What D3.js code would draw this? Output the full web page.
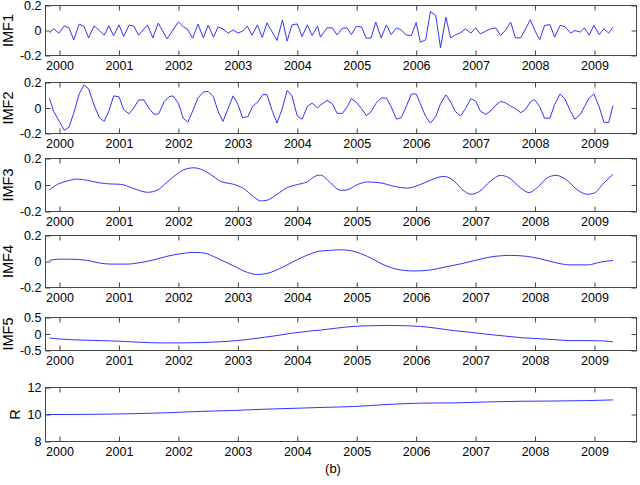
<!doctype html>
<html>
<head>
<script src="https://cdn.jsdelivr.net/npm/d3@7"></script>
<style>
  body, html { margin: 0; background: #fff; }
  svg { display: block; font-family: "Liberation Sans", Arial, sans-serif; }
  .axis text { font-size: 12.5px; fill: #000; }
  .axis line { stroke: #444; }
  .axis path { display: none; }
  .frame { fill: none; stroke: #444; stroke-width: 1; }
  .trace { fill: none; stroke: #3333ff; stroke-width: 1; }
  .ylab { font-size: 14.5px; fill: #000; }
</style>
</head>
<body>
<svg width="640" height="485"></svg>
<script>

// x axis (decimal years)
var yearTicks = [2000, 2001, 2002, 2003, 2004, 2005, 2006, 2007, 2008, 2009];
var xLimits = [1999.764, 2009.707];

var panelNames = ["IMF1", "IMF2", "IMF3", "IMF4", "IMF5", "R"];
var yLimits = [[-0.2, 0.2], [-0.2, 0.2], [-0.2, 0.2], [-0.2, 0.2], [-0.5, 0.5], [8, 12]];
var yTicks = [[-0.2, 0, 0.2], [-0.2, 0, 0.2], [-0.2, 0, 0.2], [-0.2, 0, 0.2], [-0.5, 0, 0.5], [8, 10, 12]];

// [year, value]
var imf1 = [
  [1999.83,-0.019],[1999.90,0.013],[1999.99,-0.021],[2000.08,0.037],[2000.16,0.021],[2000.24,-0.075],
  [2000.33,0.051],[2000.41,0.035],[2000.49,-0.059],[2000.58,0.037],[2000.67,0],[2000.75,-0.037],
  [2000.83,0.037],[2000.91,-0.043],[2001.00,0.045],[2001.08,-0.048],[2001.17,0.043],[2001.25,0.035],
  [2001.33,-0.037],[2001.48,0.045],[2001.57,-0.059],[2001.66,0.059],[2001.81,-0.067],[2002.00,0.069],
  [2002.09,0.027],[2002.15,0.011],[2002.24,-0.061],[2002.33,0.051],[2002.42,-0.059],[2002.50,0.043],
  [2002.59,-0.053],[2002.67,0.029],[2002.75,0.011],[2002.84,-0.021],[2002.92,0.005],[2003.00,-0.021],
  [2003.08,-0.005],[2003.16,0.035],[2003.24,-0.037],[2003.33,0.045],[2003.41,-0.056],[2003.49,0.061],
  [2003.66,-0.08],[2003.75,0.085],[2003.83,-0.085],[2003.91,0.045],[2004.00,0.053],[2004.08,-0.048],
  [2004.17,0.045],[2004.25,-0.04],[2004.34,0.035],[2004.39,-0.053],[2004.50,0.021],[2004.59,0.021],
  [2004.67,-0.035],[2004.76,0.019],[2004.84,0.019],[2004.91,-0.032],[2004.99,0.032],[2005.08,0.029],
  [2005.16,-0.061],[2005.24,-0.061],[2005.32,0.067],[2005.41,-0.059],[2005.50,0.045],[2005.58,-0.032],
  [2005.67,0.021],[2005.75,0.005],[2005.83,-0.035],[2005.92,-0.04],[2006.00,0.064],[2006.07,-0.093],
  [2006.16,-0.075],[2006.24,0.152],[2006.33,0.12],[2006.41,-0.139],[2006.50,0.107],[2006.58,-0.059],
  [2006.66,-0.035],[2006.75,-0.016],[2006.83,0.013],[2006.92,-0.021],[2007.00,0.021],[2007.08,-0.027],
  [2007.17,-0.005],[2007.25,0.013],[2007.34,0.021],[2007.42,-0.04],[2007.50,0],[2007.59,0.067],
  [2007.67,-0.059],[2007.76,-0.059],[2007.84,0.013],[2007.92,0.085],[2008.01,-0.013],[2008.08,-0.072],
  [2008.16,0.04],[2008.25,0.048],[2008.33,-0.053],[2008.42,0.04],[2008.50,0.032],[2008.60,-0.021],
  [2008.67,0],[2008.76,-0.013],[2008.83,0.021],[2008.91,-0.037],[2008.99,0.04],[2009.08,-0.032],
  [2009.16,0.013],[2009.24,-0.021],[2009.31,0.027]
];

var imf2 = [
  [1999.83,0.075],[1999.90,-0.025],[1999.99,-0.1],[2000.08,-0.175],[2000.16,-0.15],[2000.24,-0.038],
  [2000.33,0.11],[2000.41,0.18],[2000.49,0.15],[2000.58,0.025],[2000.67,-0.075],[2000.75,-0.105],
  [2000.83,-0.025],[2000.91,0.095],[2001.00,0.088],[2001.08,-0.013],[2001.17,-0.045],[2001.25,0],
  [2001.33,0.063],[2001.42,0.063],[2001.50,0],[2001.59,-0.05],[2001.67,-0.045],[2001.76,0.05],
  [2001.84,0.088],[2001.91,0.095],[2002.00,0.038],[2002.08,-0.08],[2002.16,-0.11],[2002.25,-0.013],
  [2002.33,0.08],[2002.42,0.125],[2002.50,0.13],[2002.59,0.088],[2002.67,-0.03],[2002.75,-0.105],
  [2002.84,0],[2002.92,0.095],[2003.00,0.03],[2003.08,-0.075],[2003.17,-0.068],[2003.25,0.013],
  [2003.34,0.05],[2003.42,0.105],[2003.49,0.105],[2003.58,-0.025],[2003.66,-0.118],[2003.75,0],
  [2003.83,0.138],[2003.91,0.095],[2004.00,-0.063],[2004.08,-0.088],[2004.17,0.013],[2004.25,0.038],
  [2004.34,0],[2004.39,0.022],[2004.50,0.06],[2004.59,0.034],[2004.67,-0.042],[2004.76,-0.042],
  [2004.84,0.009],[2004.91,0.073],[2004.99,0.047],[2005.08,-0.004],[2005.16,-0.06],[2005.24,-0.03],
  [2005.32,0.034],[2005.41,0.078],[2005.50,0.078],[2005.58,0.009],[2005.67,-0.088],[2005.75,-0.075],
  [2005.83,0.009],[2005.92,0.11],[2006.00,0.11],[2006.07,0.034],[2006.16,-0.067],[2006.24,-0.118],
  [2006.33,-0.067],[2006.41,0.034],[2006.50,0.103],[2006.58,0.047],[2006.66,-0.029],[2006.75,-0.062],
  [2006.83,-0.004],[2006.92,0.073],[2007.00,0.055],[2007.08,-0.024],[2007.17,-0.05],[2007.25,-0.024],
  [2007.34,0.022],[2007.42,0.052],[2007.50,0.042],[2007.59,0.014],[2007.67,-0.004],[2007.76,-0.037],
  [2007.84,-0.012],[2007.92,0.047],[2007.99,0.067],[2008.08,0.009],[2008.16,-0.08],[2008.25,-0.08],
  [2008.33,0.027],[2008.42,0.11],[2008.50,0.073],[2008.60,-0.029],[2008.67,-0.088],[2008.76,-0.05],
  [2008.83,0.009],[2008.91,0.078],[2008.99,0.11],[2009.08,0.009],[2009.16,-0.113],[2009.24,-0.113],
  [2009.31,0.017]
];

var imf3 = [
  [1999.83,-0.035],[1999.99,0.01],[2000.13,0.03],[2000.30,0.045],[2000.47,0.035],[2000.69,0.015],
  [2000.86,0.008],[2001.03,0.005],[2001.25,-0.027],[2001.48,-0.055],[2001.64,-0.04],[2001.81,0.022],
  [2001.98,0.085],[2002.12,0.12],[2002.26,0.13],[2002.37,0.12],[2002.54,0.08],[2002.71,0.027],
  [2002.93,0.005],[2003.10,-0.027],[2003.27,-0.09],[2003.38,-0.12],[2003.49,-0.115],[2003.66,-0.07],
  [2003.83,-0.02],[2004.00,0.003],[2004.17,0.025],[2004.31,0.068],[2004.39,0.075],[2004.50,0.042],
  [2004.62,-0.01],[2004.73,-0.04],[2004.84,-0.036],[2005.01,0.003],[2005.18,0.023],[2005.40,0.016],
  [2005.63,-0.01],[2005.85,-0.023],[2006.07,0.003],[2006.27,0.042],[2006.47,0.065],[2006.64,0.029],
  [2006.78,-0.036],[2006.92,-0.07],[2007.06,-0.05],[2007.25,0.029],[2007.42,0.073],[2007.56,0.055],
  [2007.76,-0.023],[2007.90,-0.057],[2008.04,-0.018],[2008.21,0.055],[2008.35,0.073],[2008.52,0.042],
  [2008.71,-0.036],[2008.88,-0.07],[2008.99,-0.062],[2009.16,0.016],[2009.31,0.08]
];

var imf4 = [
  [1999.83,0.008],[1999.99,0.018],[2000.19,0.018],[2000.47,0.008],[2000.69,-0.013],[2000.86,-0.02],
  [2001.14,-0.02],[2001.36,-0.008],[2001.59,0.013],[2001.81,0.04],[2002.04,0.06],[2002.26,0.07],
  [2002.43,0.065],[2002.65,0.026],[2002.93,-0.034],[2003.16,-0.084],[2003.33,-0.1],[2003.49,-0.092],
  [2003.77,-0.04],[2004.05,0.026],[2004.22,0.058],[2004.38,0.08],[2004.56,0.086],[2004.73,0.09],
  [2004.95,0.078],[2005.18,0.039],[2005.46,-0.026],[2005.68,-0.06],[2005.96,-0.073],[2006.19,-0.068],
  [2006.47,-0.044],[2006.75,-0.018],[2007.03,0.013],[2007.31,0.039],[2007.59,0.047],[2007.87,0.039],
  [2008.09,0.021],[2008.38,-0.013],[2008.60,-0.026],[2008.88,-0.026],[2009.10,-0.005],[2009.31,0.008]
];

var imf5 = [
  [1999.83,-0.12],[1999.99,-0.15],[2000.30,-0.18],[2000.69,-0.2],[2001.03,-0.22],[2001.36,-0.25],
  [2001.70,-0.27],[2002.04,-0.27],[2002.37,-0.26],[2002.65,-0.24],[2002.99,-0.2],[2003.27,-0.14],
  [2003.61,-0.06],[2003.89,0.02],[2004.17,0.08],[2004.39,0.12],[2004.67,0.18],[2004.95,0.23],
  [2005.23,0.25],[2005.51,0.26],[2005.85,0.25],[2006.07,0.23],[2006.36,0.17],[2006.64,0.1],
  [2006.92,0.05],[2007.20,-0.01],[2007.48,-0.06],[2007.76,-0.11],[2008.04,-0.14],[2008.32,-0.17],
  [2008.60,-0.2],[2008.88,-0.2],[2009.16,-0.21],[2009.31,-0.24]
];

var residue = [
  [1999.78,10.0],[2000.13,10.0],[2000.69,10.02],[2001.25,10.06],[2001.81,10.13],[2002.37,10.23],
  [2002.93,10.3],[2003.49,10.4],[2004.05,10.47],[2004.38,10.52],[2004.95,10.59],[2005.51,10.74],
  [2006.07,10.84],[2006.64,10.86],[2007.20,10.93],[2007.76,10.98],[2008.32,11.0],[2008.88,11.03],
  [2009.31,11.08]
];

var series = [imf1, imf2, imf3, imf4, imf5, residue];
var smooth = [false, false, true, true, true, true];

// layout
var left = 45.5, right = 636.5;
var panelTop = [5.5, 82.5, 158.5, 235.5, 317.5, 387.5];
var panelBottom = [55.5, 133.5, 211.5, 287.5, 350.5, 441.5];
var labelX = [13, 13, 13, 13, 13, 20];

var svg = d3.select("svg");
var x = d3.scaleLinear().domain(xLimits).range([left, right]);
var fmt = d => String(d);

panelNames.forEach((name, i) => {
  var top = panelTop[i], bottom = panelBottom[i];
  var y = d3.scaleLinear().domain(yLimits[i]).range([bottom, top]);
  var g = svg.append("g");

  g.append("rect").attr("x", left).attr("y", top)
    .attr("width", right - left).attr("height", bottom - top)
    .attr("fill", "#fff");

  var line = d3.line()
    .x(d => x(d[0])).y(d => y(d[1]))
    .curve(smooth[i] ? d3.curveMonotoneX : d3.curveLinear);
  g.append("path").attr("class", "trace").attr("d", line(series[i]));

  g.append("g").attr("class", "axis")
    .attr("transform", "translate(0," + bottom + ")")
    .call(d3.axisBottom(x).tickValues(yearTicks).tickFormat(fmt)
      .tickSizeInner(-5).tickSizeOuter(0).tickPadding(6));
  g.append("g").attr("class", "axis")
    .attr("transform", "translate(0," + top + ")")
    .call(d3.axisTop(x).tickValues(yearTicks).tickFormat("")
      .tickSizeInner(-5).tickSizeOuter(0));
  g.append("g").attr("class", "axis")
    .attr("transform", "translate(" + left + ",0)")
    .call(d3.axisLeft(y).tickValues(yTicks[i]).tickFormat(fmt)
      .tickSizeInner(-5).tickSizeOuter(0).tickPadding(4));
  g.append("g").attr("class", "axis")
    .attr("transform", "translate(" + right + ",0)")
    .call(d3.axisRight(y).tickValues(yTicks[i]).tickFormat("")
      .tickSizeInner(-5).tickSizeOuter(0));

  g.append("rect").attr("class", "frame")
    .attr("x", left).attr("y", top)
    .attr("width", right - left).attr("height", bottom - top);

  g.append("text").attr("class", "ylab")
    .attr("transform", "translate(" + labelX[i] + "," + (top + bottom) / 2 + ") rotate(-90)")
    .attr("text-anchor", "middle")
    .text(name);
});

svg.append("text")
  .attr("x", 333).attr("y", 473)
  .attr("text-anchor", "middle")
  .style("font-size", "13px")
  .text("(b)");
</script>
</body>
</html>
